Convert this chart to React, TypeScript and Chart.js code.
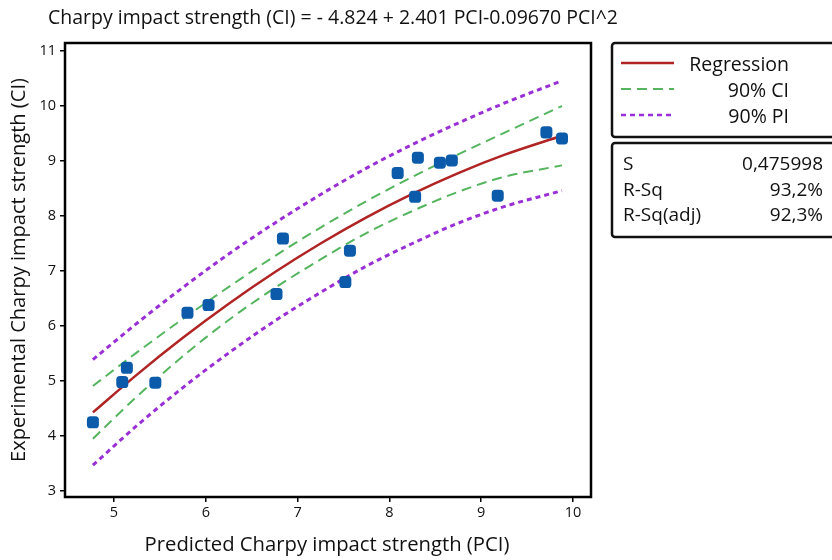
import React, { useEffect, useRef } from 'react';
import { Chart, registerables } from 'chart.js';

Chart.register(...registerables);

// ---------- data ----------
const pciObserved = [4.77, 5.09, 5.14, 5.45, 5.80, 6.03, 6.77, 6.84, 7.52, 7.57, 8.09, 8.28, 8.31, 8.55, 8.68, 9.18, 9.71, 9.88];
const ciObserved = [4.25, 4.98, 5.24, 4.97, 6.24, 6.38, 6.58, 7.59, 6.80, 7.37, 8.78, 8.35, 9.06, 8.97, 9.01, 8.37, 9.52, 9.41];

const curveX = [4.77, 5.25, 5.75, 6.25, 6.75, 7.25, 7.75, 8.25, 8.75, 9.25, 9.88];
const regression = [4.429, 5.116, 5.785, 6.405, 6.977, 7.5, 7.976, 8.402, 8.781, 9.111, 9.459];
const ciUpper = [4.91, 5.52, 6.13, 6.71, 7.27, 7.79, 8.27, 8.71, 9.12, 9.51, 10.0];
const ciLower = [3.95, 4.72, 5.45, 6.11, 6.69, 7.21, 7.69, 8.09, 8.44, 8.71, 8.92];
const piUpper = [5.39, 6.05, 6.7, 7.31, 7.87, 8.39, 8.87, 9.3, 9.69, 10.05, 10.46];
const piLower = [3.47, 4.19, 4.88, 5.51, 6.09, 6.61, 7.09, 7.5, 7.87, 8.17, 8.46];

const titleText = 'Charpy impact strength (CI) = - 4.824 + 2.401 PCI-0.09670 PCI^2';
const xAxisTitle = 'Predicted Charpy impact strength (PCI)';
const yAxisTitle = 'Experimental Charpy impact strength (CI)';
const legendLabels = ['Regression', '90% CI', '90% PI'];
const statNames = ['S', 'R-Sq', 'R-Sq(adj)'];
const statValues = ['0,475998', '93,2%', '92,3%'];

// ---------- styles ----------
const X_MIN = 4.466;
const X_MAX = 10.196;
const Y_MIN = 2.891;
const Y_MAX = 11.145;
const POINT = '#0B5BAA';
const RED = '#B02424';
const GREEN = '#55B55F';
const PURPLE = '#9A2FD6';
const FONT = '"Open Sans", "Noto Sans", sans-serif';
const CI_DASH = [10, 6];
const PI_DASH = [5, 4];

const toPts = (xs: number[], ys: number[]) => xs.map((x, i) => ({ x, y: ys[i] }));

function fitFontSize(ctx: CanvasRenderingContext2D, text: string, target: number) {
  ctx.font = `20px ${FONT}`;
  const w = ctx.measureText(text).width;
  return (20 * target) / w;
}

const decorPlugin = {
  id: 'decor',
  afterDraw(chart: any) {
    const ctx: CanvasRenderingContext2D = chart.ctx;
    const a = chart.chartArea;
    ctx.save();
    // plot frame
    ctx.strokeStyle = '#000';
    ctx.lineWidth = 2.5;
    ctx.strokeRect(a.left, a.top, a.right - a.left, a.bottom - a.top);

    ctx.fillStyle = '#111';
    // title (condensed look)
    ctx.font = `20px ${FONT}`;
    const tw = ctx.measureText(titleText).width;
    ctx.save();
    ctx.translate(48, 18);
    ctx.scale(570 / tw, 1);
    ctx.textAlign = 'left';
    ctx.textBaseline = 'middle';
    ctx.fillText(titleText, 0, 0);
    ctx.restore();

    // x axis title
    const xs = Math.min(21, fitFontSize(ctx, xAxisTitle, 365));
    ctx.font = `${xs}px ${FONT}`;
    ctx.textAlign = 'center';
    ctx.textBaseline = 'middle';
    ctx.fillText(xAxisTitle, 327, 545);

    // y axis title
    const ys = Math.min(21, fitFontSize(ctx, yAxisTitle, 384));
    ctx.save();
    ctx.translate(19, 270);
    ctx.rotate(-Math.PI / 2);
    ctx.font = `${ys}px ${FONT}`;
    ctx.fillText(yAxisTitle, 0, 0);
    ctx.restore();

    // legend boxes
    const roundBox = (x: number, y: number, w: number, h: number) => {
      ctx.beginPath();
      (ctx as any).roundRect(x, y, w, h, 3);
      ctx.lineWidth = 2.5;
      ctx.strokeStyle = '#111';
      ctx.stroke();
    };
    roundBox(612, 43, 240, 94);
    roundBox(612, 143, 240, 94);

    const rows = [63, 89, 115];
    const lineStyles = [
      { c: RED, d: [] as number[], w: 2.5 },
      { c: GREEN, d: CI_DASH, w: 2 },
      { c: PURPLE, d: PI_DASH, w: 2.5 },
    ];
    lineStyles.forEach((s, i) => {
      ctx.beginPath();
      ctx.setLineDash(s.d);
      ctx.strokeStyle = s.c;
      ctx.lineWidth = s.w;
      ctx.moveTo(621, rows[i]);
      ctx.lineTo(674, rows[i]);
      ctx.stroke();
    });
    ctx.setLineDash([]);
    ctx.fillStyle = '#111';
    ctx.font = `19.5px ${FONT}`;
    ctx.textAlign = 'right';
    ctx.textBaseline = 'middle';
    legendLabels.forEach((t, i) => ctx.fillText(t, 789, rows[i] + 2));

    const srows = [165, 191, 216];
    ctx.font = `19px ${FONT}`;
    statNames.forEach((t, i) => {
      ctx.textAlign = 'left';
      ctx.fillText(t, 623, srows[i]);
      ctx.textAlign = 'right';
      ctx.fillText(statValues[i], 823, srows[i]);
    });
    ctx.restore();
  },
};

export default function App() {
  const ref = useRef<HTMLCanvasElement>(null);
  useEffect(() => {
    const canvas = ref.current!;
    const tickFont = { family: FONT, size: 14.5 };
    const chart = new Chart(canvas, {
      type: 'scatter',
      data: {
        datasets: [
          {
            label: 'Observed',
            data: toPts(pciObserved, ciObserved),
            backgroundColor: POINT,
            borderColor: POINT,
            pointStyle: 'rectRounded',
            pointRadius: 7,
            borderWidth: 0,
            showLine: false,
            order: 0,
          },
          {
            label: 'Regression',
            data: toPts(curveX, regression),
            showLine: true,
            borderColor: RED,
            borderWidth: 2.5,
            pointRadius: 0,
            cubicInterpolationMode: 'monotone',
            order: 1,
          },
          {
            label: 'CI upper',
            data: toPts(curveX, ciUpper),
            showLine: true,
            borderColor: GREEN,
            borderWidth: 2,
            borderDash: CI_DASH,
            pointRadius: 0,
            cubicInterpolationMode: 'monotone',
            order: 2,
          },
          {
            label: 'CI lower',
            data: toPts(curveX, ciLower),
            showLine: true,
            borderColor: GREEN,
            borderWidth: 2,
            borderDash: CI_DASH,
            pointRadius: 0,
            cubicInterpolationMode: 'monotone',
            order: 2,
          },
          {
            label: 'PI upper',
            data: toPts(curveX, piUpper),
            showLine: true,
            borderColor: PURPLE,
            borderWidth: 3,
            borderDash: PI_DASH,
            pointRadius: 0,
            cubicInterpolationMode: 'monotone',
            order: 3,
          },
          {
            label: 'PI lower',
            data: toPts(curveX, piLower),
            showLine: true,
            borderColor: PURPLE,
            borderWidth: 3,
            borderDash: PI_DASH,
            pointRadius: 0,
            cubicInterpolationMode: 'monotone',
            order: 3,
          },
        ] as any,
      },
      options: {
        responsive: false,
        animation: false,
        devicePixelRatio: 1,
        layout: { padding: { left: 0, top: 43, right: 241, bottom: 0 } },
        plugins: {
          legend: { display: false },
          tooltip: { enabled: false },
          title: { display: false },
        },
        scales: {
          x: {
            type: 'linear',
            min: X_MIN,
            max: X_MAX,
            afterFit: (s: any) => {
              s.height = 63;
            },
            border: { display: false },
            grid: {
              drawOnChartArea: false,
              drawTicks: true,
              tickLength: 5,
              tickColor: '#000',
              lineWidth: 1.5,
            },
            ticks: {
              stepSize: 1,
              includeBounds: false,
              color: '#111',
              font: tickFont,
              padding: 2,
              maxRotation: 0,
            },
          },
          y: {
            type: 'linear',
            min: Y_MIN,
            max: Y_MAX,
            afterFit: (s: any) => {
              s.width = 65;
            },
            border: { display: false },
            grid: {
              drawOnChartArea: false,
              drawTicks: true,
              tickLength: 5,
              tickColor: '#000',
              lineWidth: 1.5,
            },
            ticks: {
              stepSize: 1,
              includeBounds: false,
              color: '#111',
              font: tickFont,
              padding: 4,
            },
          },
        },
      } as any,
      plugins: [decorPlugin],
    });
    return () => chart.destroy();
  }, []);

  return (
    <div style={{ position: 'fixed', left: 0, top: 0, width: 832, height: 560, background: '#fff' }}>
      <canvas ref={ref} width={832} height={560} style={{ display: 'block', width: 832, height: 560 }} />
    </div>
  );
}
